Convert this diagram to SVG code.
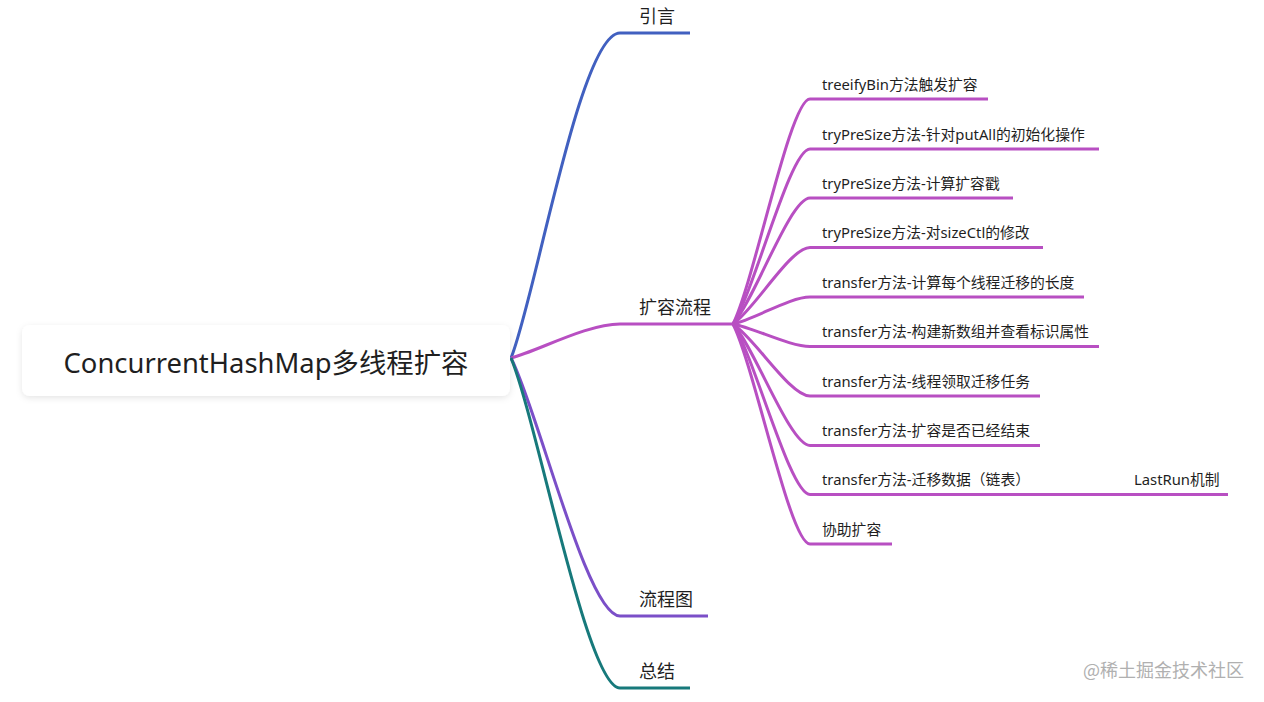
<svg xmlns="http://www.w3.org/2000/svg" width="1264" height="702" viewBox="0 0 1264 702">
<defs>
<filter id="sh" x="-5%" y="-20%" width="110%" height="150%">
<feDropShadow dx="0" dy="2" stdDeviation="3" flood-color="#000" flood-opacity="0.10"/>
</filter>
<style>
.t{font-family:"Noto Sans","Noto Sans CJK SC",sans-serif;fill:#1f1f1f}
.root{font-size:27.4px}
.l1{font-size:18px}
.l2{font-size:14.8px}
.wm{font-family:"Noto Sans CJK SC",sans-serif;font-size:18px;fill:#b0b0b0}
.c{fill:none;stroke-width:3;stroke-linecap:butt}
.blue{stroke:#4160c0}
.mag{stroke:#b84fc2}
.pur{stroke:#7b4fc8}
.teal{stroke:#17797b}
</style>
</defs>
<rect width="1264" height="702" fill="#ffffff"/>

<g id="connectors">
<path class="c blue" d="M511,358 C535,300 580,33 620,33"/>
<path class="c mag" d="M511,358 C538,351 587,324 620,324"/>
<path class="c pur" d="M511,358 C538,410 587,616 620,616"/>
<path class="c teal" d="M511,358 C538,424 587,688 620,688"/>

<path class="c mag" d="M733,324 C755,279 790,99 810,99"/>
<path class="c mag" d="M733,324 C755,289 790,149 810,149"/>
<path class="c mag" d="M733,324 C755,299 790,198 810,198"/>
<path class="c mag" d="M733,324 C755,309 790,247.5 810,247.5"/>
<path class="c mag" d="M733,324 C755,319 790,297 810,297"/>
<path class="c mag" d="M733,324 C755,328.5 790,346.5 810,346.5"/>
<path class="c mag" d="M733,324 C755,338.4 790,396 810,396"/>
<path class="c mag" d="M733,324 C755,348.3 790,445.5 810,445.5"/>
<path class="c mag" d="M733,324 C755,358 790,494.5 810,494.5"/>
<path class="c mag" d="M733,324 C755,368 790,544 810,544"/>
<path class="c mag" d="M1031,494.5 L1122,494.5"/>
</g>

<g id="root">
<rect x="22" y="325" width="488" height="71" rx="8" fill="#ffffff" filter="url(#sh)"/>
<text class="t root" x="266" y="373" text-anchor="middle">ConcurrentHashMap多线程扩容</text>
</g>

<g id="n-yinyan">
<line class="c blue" x1="620" y1="33" x2="690" y2="33"/>
<text class="t l1" x="639" y="23">引言</text>
</g>
<g id="n-kuorongliucheng">
<line class="c mag" x1="620" y1="324" x2="733" y2="324"/>
<text class="t l1" x="639" y="314">扩容流程</text>
</g>
<g id="n-liuchengtu">
<line class="c pur" x1="620" y1="616" x2="708" y2="616"/>
<text class="t l1" x="639" y="606">流程图</text>
</g>
<g id="n-zongjie">
<line class="c teal" x1="620" y1="688" x2="690" y2="688"/>
<text class="t l1" x="639" y="678">总结</text>
</g>

<g id="n-treeify">
<line class="c mag" x1="810" y1="99" x2="988" y2="99"/>
<text class="t l2" x="822" y="89.5">treeifyBin方法触发扩容</text>
</g>
<g id="n-putall">
<line class="c mag" x1="810" y1="149" x2="1099" y2="149"/>
<text class="t l2" x="822" y="139.5">tryPreSize方法-针对putAll的初始化操作</text>
</g>
<g id="n-stamp">
<line class="c mag" x1="810" y1="198" x2="1013" y2="198"/>
<text class="t l2" x="822" y="188.5">tryPreSize方法-计算扩容戳</text>
</g>
<g id="n-sizectl">
<line class="c mag" x1="810" y1="247.5" x2="1043" y2="247.5"/>
<text class="t l2" x="822" y="238">tryPreSize方法-对sizeCtl的修改</text>
</g>
<g id="n-stride">
<line class="c mag" x1="810" y1="297" x2="1084" y2="297"/>
<text class="t l2" x="822" y="287.5">transfer方法-计算每个线程迁移的长度</text>
</g>
<g id="n-newtab">
<line class="c mag" x1="810" y1="346.5" x2="1099" y2="346.5"/>
<text class="t l2" x="822" y="337">transfer方法-构建新数组并查看标识属性</text>
</g>
<g id="n-task">
<line class="c mag" x1="810" y1="396" x2="1040" y2="396"/>
<text class="t l2" x="822" y="386.5">transfer方法-线程领取迁移任务</text>
</g>
<g id="n-finish">
<line class="c mag" x1="810" y1="445.5" x2="1040" y2="445.5"/>
<text class="t l2" x="822" y="436">transfer方法-扩容是否已经结束</text>
</g>
<g id="n-migrate">
<line class="c mag" x1="810" y1="494.5" x2="1031" y2="494.5"/>
<text class="t l2" x="822" y="485">transfer方法-迁移数据（链表）</text>
</g>
<g id="n-lastrun">
<line class="c mag" x1="1122" y1="494.5" x2="1228" y2="494.5"/>
<text class="t l2" x="1134" y="485">LastRun机制</text>
</g>
<g id="n-help">
<line class="c mag" x1="810" y1="544" x2="892" y2="544"/>
<text class="t l2" x="822" y="534.5">协助扩容</text>
</g>

<text class="wm" x="1083" y="677">@稀土掘金技术社区</text>
</svg>
